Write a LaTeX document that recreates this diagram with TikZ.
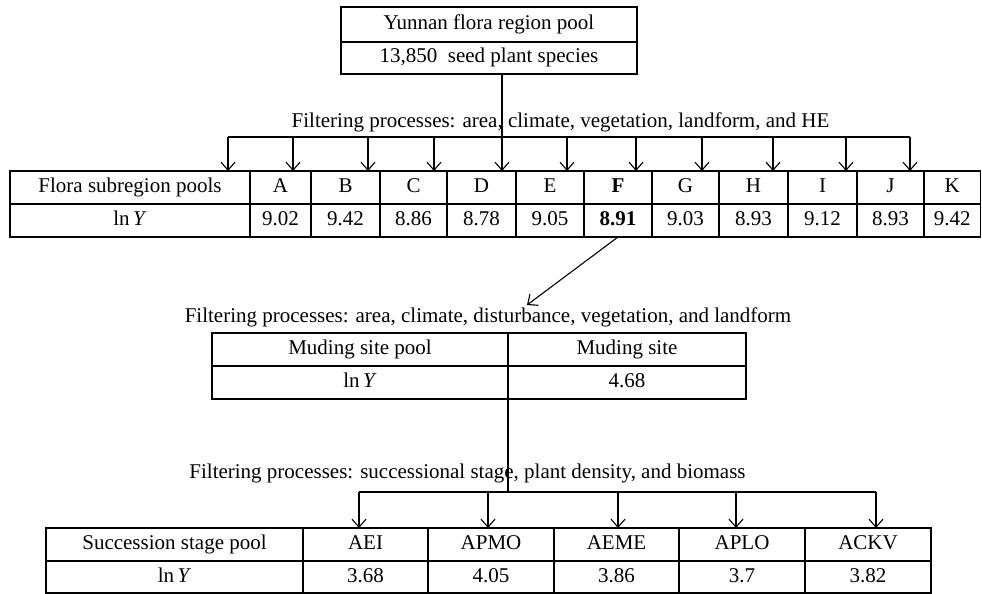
\documentclass[tikz,border=0pt]{standalone}
\usepackage{fontspec}
\setmainfont{Liberation Serif}
\usetikzlibrary{arrows.meta}
\newcommand\tcell[6]{\node[cell,minimum width={#3-#2},minimum height={#5-#4}] (#1) at ({(#2+#3)/2},{(#4+#5)/2}) {#6};}
\begin{document}
\begin{tikzpicture}[x=1pt,y=-1pt,
  cell/.style={draw, line width=1.1pt, inner sep=0pt, outer sep=0pt, text height=14pt, text depth=4pt, font=\fontsize{21}{24}\selectfont},
  lbl/.style={inner sep=0pt, anchor=base, font=\fontsize{21}{24}\selectfont},
  conn/.style={line width=1.1pt},
  arr/.style={line width=1.1pt, -{Straight Barb[length=8pt,width=14pt]}}]
\useasboundingbox (0,0) rectangle (982,594);
% top box
\tcell{y1}{341}{637}{7}{42}{Yunnan flora region pool}
\tcell{y2}{341}{637}{42}{74}{13,850\ \ seed plant species}
% table 1
\tcell{p1}{10}{250}{171}{204}{Flora subregion pools}
\tcell{a1}{250}{311}{171}{204}{A}
\tcell{b1}{311}{380}{171}{204}{B}
\tcell{c1}{380}{447}{171}{204}{C}
\tcell{d1}{447}{516}{171}{204}{D}
\tcell{e1}{516}{584}{171}{204}{E}
\tcell{f1}{584}{652}{171}{204}{\textbf{F}}
\tcell{g1}{652}{719}{171}{204}{G}
\tcell{h1}{719}{788}{171}{204}{H}
\tcell{i1}{788}{857}{171}{204}{I}
\tcell{j1}{857}{924}{171}{204}{J}
\tcell{k1}{924}{980.5}{171}{204}{K}
\tcell{p2}{10}{250}{204}{237}{ln\,\textit{Y}}
\tcell{a2}{250}{311}{204}{237}{9.02}
\tcell{b2}{311}{380}{204}{237}{9.42}
\tcell{c2}{380}{447}{204}{237}{8.86}
\tcell{d2}{447}{516}{204}{237}{8.78}
\tcell{e2}{516}{584}{204}{237}{9.05}
\tcell{f2}{584}{652}{204}{237}{\textbf{8.91}}
\tcell{g2}{652}{719}{204}{237}{9.03}
\tcell{h2}{719}{788}{204}{237}{8.93}
\tcell{i2}{788}{857}{204}{237}{9.12}
\tcell{j2}{857}{924}{204}{237}{8.93}
\tcell{k2}{924}{980.5}{204}{237}{9.42}
% table 2
\tcell{m1}{212}{508}{333}{366}{Muding site pool}
\tcell{s1}{508}{746}{333}{366}{Muding site}
\tcell{m2}{212}{508}{366}{399}{ln\,\textit{Y}}
\tcell{s2}{508}{746}{366}{399}{4.68}
% table 3
\tcell{q1}{46}{303}{528}{561}{Succession stage pool}
\tcell{aei1}{303}{428}{528}{561}{AEI}
\tcell{apmo1}{428}{554}{528}{561}{APMO}
\tcell{aeme1}{554}{679}{528}{561}{AEME}
\tcell{aplo1}{679}{805}{528}{561}{APLO}
\tcell{ackv1}{805}{931}{528}{561}{ACKV}
\tcell{q2}{46}{303}{561}{593}{ln\,\textit{Y}}
\tcell{aei2}{303}{428}{561}{593}{3.68}
\tcell{apmo2}{428}{554}{561}{593}{4.05}
\tcell{aeme2}{554}{679}{561}{593}{3.86}
\tcell{aplo2}{679}{805}{561}{593}{3.7}
\tcell{ackv2}{805}{931}{561}{593}{3.82}
% filtering texts
\node[lbl] (ft1) at (560.5,127) {Filtering processes: area, climate, vegetation, landform, and HE};
\node[lbl] (ft2) at (488,322) {Filtering processes: area, climate, disturbance, vegetation, and landform};
\node[lbl] (ft3) at (467.5,478) {Filtering processes: successional stage, plant density, and biomass};
% connectors level 1
\coordinate (bus1) at (502,137);
\coordinate (bus1l) at (228,137);
\coordinate (bus1r) at (910,137);
\draw[arr] (y2.south -| bus1) -- (bus1 |- d1.north);
\draw[conn] (bus1l) -- (bus1r);
\foreach \x in {228,293,368,434,567,636,702,773,846,910}
  \draw[arr] (\x,137) -- (\x,171);
% diagonal
\coordinate (tip2) at (527,305);
\draw[arr] (f2.south) -- (tip2);
% connectors level 3
\coordinate (bus3) at (508,492);
\coordinate (bus3l) at (359,492);
\coordinate (bus3r) at (876,492);
\draw[conn] (bus3 |- m2.south) -- (bus3);
\draw[conn] (bus3l) -- (bus3r);
\foreach \x in {359,488,618,736,876}
  \draw[arr] (\x,492) -- (\x,528);
\end{tikzpicture}
\end{document}
